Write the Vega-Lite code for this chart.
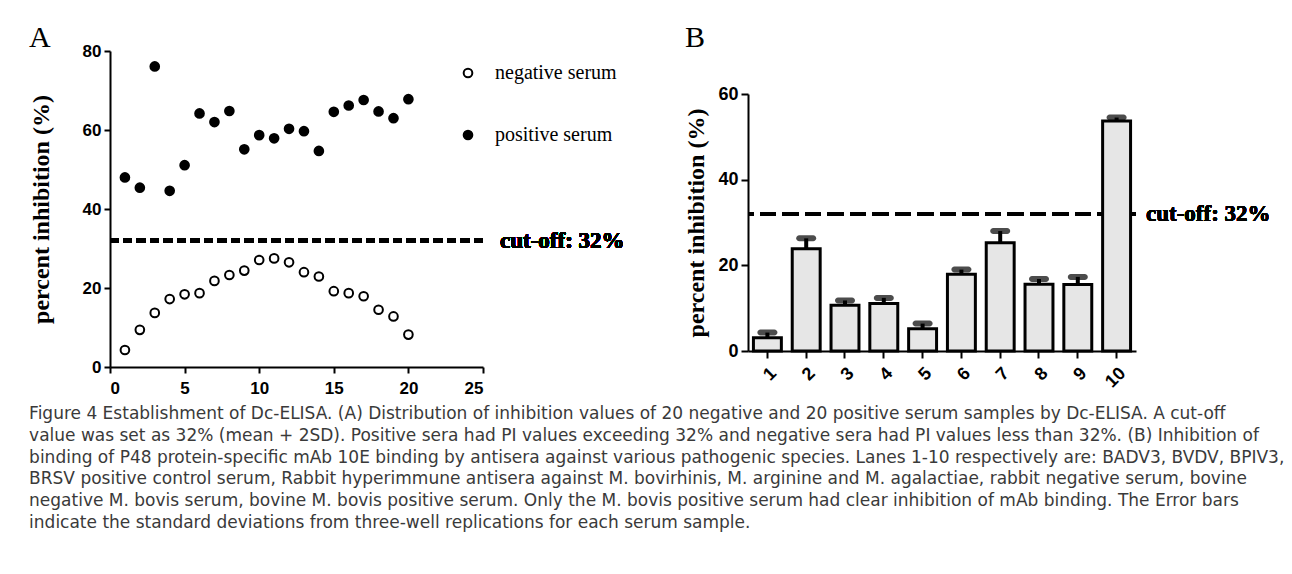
{
  "$schema": "https://vega.github.io/schema/vega-lite/v6.json",
  "padding": {"top": 22, "left": 29, "right": 5, "bottom": 5},
  "background": "white",
  "config": {
    "view": {"stroke": null},
    "axis": {"domainColor": "black", "domainWidth": 2, "tickColor": "black", "tickWidth": 2, "labelColor": "black", "labelFont": "Liberation Sans", "labelFontWeight": "bold", "titleFont": "Liberation Serif", "titleFontWeight": "bold", "titleColor": "black", "grid": false},
    "title": {"font": "Liberation Serif", "fontWeight": "normal", "fontSize": 30, "color": "black", "anchor": "start", "frame": "bounds"}
  },
  "title": {
    "text": [
      "Figure 4 Establishment of Dc-ELISA. (A) Distribution of inhibition values of 20 negative and 20 positive serum samples by Dc-ELISA. A cut-off",
      "value was set as 32% (mean + 2SD). Positive sera had PI values exceeding 32% and negative sera had PI values less than 32%. (B) Inhibition of",
      "binding of P48 protein-specific mAb 10E binding by antisera against various pathogenic species. Lanes 1-10 respectively are: BADV3, BVDV, BPIV3,",
      "BRSV positive control serum, Rabbit hyperimmune antisera against M. bovirhinis, M. arginine and M. agalactiae, rabbit negative serum, bovine",
      "negative M. bovis serum, bovine M. bovis positive serum. Only the M. bovis positive serum had clear inhibition of mAb binding. The Error bars",
      "indicate the standard deviations from three-well replications for each serum sample."
    ],
    "orient": "bottom",
    "anchor": "start",
    "frame": "bounds",
    "font": "DejaVu Sans",
    "fontSize": 17,
    "fontWeight": "normal",
    "color": "#3a3a3a",
    "lineHeight": 21.8,
    "offset": 10
  },
  "spacing": 59,
  "hconcat": [
    {
      "spacing": 0,
      "vconcat": [
        {"width": 373, "height": 1, "data": {"values": []}, "mark": "point"},
        {
          "title": {"text": "A", "offset": -11},
          "width": 373,
          "height": 316,
          "data": {"values": [
            {"sample": 1, "serum": "negative serum", "pi": 4.3},
            {"sample": 2, "serum": "negative serum", "pi": 9.4},
            {"sample": 3, "serum": "negative serum", "pi": 13.7},
            {"sample": 4, "serum": "negative serum", "pi": 17.2},
            {"sample": 5, "serum": "negative serum", "pi": 18.4},
            {"sample": 6, "serum": "negative serum", "pi": 18.7},
            {"sample": 7, "serum": "negative serum", "pi": 21.8},
            {"sample": 8, "serum": "negative serum", "pi": 23.3},
            {"sample": 9, "serum": "negative serum", "pi": 24.4},
            {"sample": 10, "serum": "negative serum", "pi": 27.1},
            {"sample": 11, "serum": "negative serum", "pi": 27.5},
            {"sample": 12, "serum": "negative serum", "pi": 26.5},
            {"sample": 13, "serum": "negative serum", "pi": 24.0},
            {"sample": 14, "serum": "negative serum", "pi": 22.9},
            {"sample": 15, "serum": "negative serum", "pi": 19.2},
            {"sample": 16, "serum": "negative serum", "pi": 18.7},
            {"sample": 17, "serum": "negative serum", "pi": 17.9},
            {"sample": 18, "serum": "negative serum", "pi": 14.5},
            {"sample": 19, "serum": "negative serum", "pi": 12.8},
            {"sample": 20, "serum": "negative serum", "pi": 8.2},
            {"sample": 1, "serum": "positive serum", "pi": 48.0},
            {"sample": 2, "serum": "positive serum", "pi": 45.4},
            {"sample": 3, "serum": "positive serum", "pi": 76.1},
            {"sample": 4, "serum": "positive serum", "pi": 44.6},
            {"sample": 5, "serum": "positive serum", "pi": 51.1},
            {"sample": 6, "serum": "positive serum", "pi": 64.2},
            {"sample": 7, "serum": "positive serum", "pi": 62.0},
            {"sample": 8, "serum": "positive serum", "pi": 64.8},
            {"sample": 9, "serum": "positive serum", "pi": 55.1},
            {"sample": 10, "serum": "positive serum", "pi": 58.7},
            {"sample": 11, "serum": "positive serum", "pi": 57.9},
            {"sample": 12, "serum": "positive serum", "pi": 60.3},
            {"sample": 13, "serum": "positive serum", "pi": 59.7},
            {"sample": 14, "serum": "positive serum", "pi": 54.7},
            {"sample": 15, "serum": "positive serum", "pi": 64.6},
            {"sample": 16, "serum": "positive serum", "pi": 66.2},
            {"sample": 17, "serum": "positive serum", "pi": 67.6},
            {"sample": 18, "serum": "positive serum", "pi": 64.7},
            {"sample": 19, "serum": "positive serum", "pi": 63.0},
            {"sample": 20, "serum": "positive serum", "pi": 67.8}
          ]},
          "layer": [
            {
              "mark": {"type": "rule", "strokeDash": [9, 4.5], "strokeWidth": 4, "color": "black"},
              "encoding": {"y": {"datum": 32, "type": "quantitative", "scale": {"domain": [0, 80]}}}
            },
            {
              "mark": {"type": "point", "filled": true, "stroke": "black", "strokeWidth": 2, "size": 75, "opacity": 1},
              "encoding": {
                "x": {"field": "sample", "type": "quantitative", "scale": {"domain": [0, 25]}, "axis": {"values": [0, 5, 10, 15, 20, 25], "labelFontSize": 17, "tickSize": 6, "labelPadding": 7, "title": null}},
                "y": {"field": "pi", "type": "quantitative", "scale": {"domain": [0, 80]}, "axis": {"values": [0, 20, 40, 60, 80], "title": "percent inhibition (%)", "titleFontSize": 24, "labelFontSize": 17, "tickSize": 6, "labelPadding": 3, "titlePadding": 29}},
                "fill": {"field": "serum", "type": "nominal", "scale": {"domain": ["negative serum", "positive serum"], "range": ["white", "black"]},
                  "legend": {"title": null, "orient": "none", "legendX": 348, "legendY": 41, "labelFont": "Liberation Serif", "labelFontSize": 20, "labelColor": "black", "labelOffset": 17, "rowPadding": 42, "symbolSize": 75, "symbolStrokeWidth": 2, "symbolStrokeColor": "black", "symbolType": "circle", "padding": 0}}
              }
            },
            {
              "mark": {"type": "text", "text": "cut-off: 32%", "font": "Liberation Serif", "fontWeight": "bold", "fontSize": 23, "align": "left", "baseline": "middle", "color": "black", "dx": 17},
              "encoding": {"x": {"value": "width"}, "y": {"datum": 32, "type": "quantitative"}}
            }
          ]
        }
      ]
    },
    {
      "spacing": 0,
      "vconcat": [
        {"width": 388, "height": 1, "data": {"values": []}, "mark": "point"},
        {
          "title": {"text": "B", "offset": 32},
          "width": 388,
          "height": 257,
          "data": {"values": [
            {"lane": 1, "mean": 3.1, "upper": 4.3},
            {"lane": 2, "mean": 23.9, "upper": 26.3},
            {"lane": 3, "mean": 10.7, "upper": 11.8},
            {"lane": 4, "mean": 11.1, "upper": 12.4},
            {"lane": 5, "mean": 5.2, "upper": 6.4},
            {"lane": 6, "mean": 17.9, "upper": 19.0},
            {"lane": 7, "mean": 25.3, "upper": 28.0},
            {"lane": 8, "mean": 15.6, "upper": 16.8},
            {"lane": 9, "mean": 15.5, "upper": 17.3},
            {"lane": 10, "mean": 53.7, "upper": 54.5}
          ]},
          "encoding": {
            "x": {"field": "lane", "type": "ordinal", "scale": {"paddingInner": 0.28, "paddingOuter": 0.14}, "axis": {"title": null, "labelAngle": -45, "labelFontSize": 18, "tickSize": 7, "labelPadding": 6}}
          },
          "layer": [
            {
              "mark": {"type": "rule", "strokeDash": [16, 6.5], "strokeWidth": 4, "color": "black"},
              "encoding": {"x": null, "y": {"datum": 32, "type": "quantitative", "scale": {"domain": [0, 60]}, "axis": {"values": [0, 20, 40, 60], "title": "percent inhibition (%)", "titleFontSize": 24, "labelFontSize": 18, "tickSize": 7, "labelPadding": 3, "titlePadding": 9}}}
            },
            {
              "mark": {"type": "rule", "strokeWidth": 4, "color": "black"},
              "encoding": {"y": {"field": "mean", "type": "quantitative", "axis": {"values": [0, 20, 40, 60], "title": "percent inhibition (%)", "titleFontSize": 24, "labelFontSize": 18, "tickSize": 7, "labelPadding": 3, "titlePadding": 9}}, "y2": {"field": "upper"}}
            },
            {
              "mark": {"type": "bar", "fill": "#e6e6e6", "stroke": "black", "strokeWidth": 3},
              "encoding": {"y": {"field": "mean", "type": "quantitative", "axis": {"values": [0, 20, 40, 60], "title": "percent inhibition (%)", "titleFontSize": 24, "labelFontSize": 18, "tickSize": 7, "labelPadding": 3, "titlePadding": 9}}}
            },
            {
              "mark": {"type": "tick", "size": 20, "thickness": 6, "color": "black", "cornerRadius": 3},
              "encoding": {"y": {"field": "upper", "type": "quantitative", "axis": {"values": [0, 20, 40, 60], "title": "percent inhibition (%)", "titleFontSize": 24, "labelFontSize": 18, "tickSize": 7, "labelPadding": 3, "titlePadding": 9}}}
            },
            {
              "mark": {"type": "text", "text": "cut-off: 32%", "font": "Liberation Serif", "fontWeight": "bold", "fontSize": 23, "align": "left", "baseline": "middle", "color": "black", "dx": 10},
              "encoding": {"x": {"value": "width"}, "y": {"datum": 32, "type": "quantitative"}}
            }
          ]
        }
      ]
    }
  ]
}
